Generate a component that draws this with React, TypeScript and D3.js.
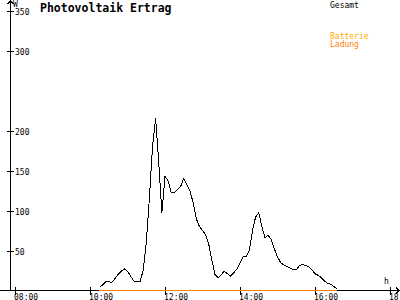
import React from "react";
import * as d3 from "d3";

const TITLE = "Photovoltaik Ertrag";
const Y_TICKS = [50, 100, 150, 200, 300, 350];
const X_TICKS = [8, 10, 12, 14, 16, 18];
const X_TICK_LABELS = ["08:00", "10:00", "12:00", "14:00", "16:00", "18:00"];
const START_HOUR = 10.25; // 10:15
const STEP_MIN = 5;
const GESAMT = [
  4, 7, 11, 11, 10, 15, 20, 24, 27, 24, 18, 12, 11, 11, 25, 60, 115, 180, 215, 160,
  97, 143, 137, 122, 122, 126, 130, 140, 132, 124, 110, 90, 80, 75, 70, 58, 38, 20, 16, 20,
  24, 21, 18, 22, 27, 34, 42, 42, 50, 75, 92, 97, 80, 66, 69, 64, 52, 42, 35, 32,
  30, 28, 26, 26, 31, 33, 31, 30, 26, 21, 19, 16, 12, 9, 8, 5, 2,
];
const LADUNG = GESAMT.map(() => 0);

const W = 400;
const H = 300;

export default function App() {
  const x = d3.scaleLinear().domain([8, 18]).range([15, 390]);
  const y = d3.scaleLinear().domain([0, 350]).range([290.5, 10.5]);
  const t = (i: number) => START_HOUR + (i * STEP_MIN) / 60;
  const line = d3
    .line<number>()
    .x((_, i) => x(t(i)))
    .y((d) => y(d));
  const mono = "'DejaVu Sans Mono', monospace";
  const axisY = 290.5;
  const axisX = 10.5;
  return (
    <svg
      width={W}
      height={H}
      style={{ position: "absolute", left: 0, top: 0, background: "#fff" }}
    >
      <rect x={0} y={0} width={W} height={H} fill="#fff" />
      {/* axes */}
      <line x1={0} x2={399} y1={axisY} y2={axisY} stroke="#000" shapeRendering="crispEdges" />
      <line x1={axisX} x2={axisX} y1={1} y2={291} stroke="#000" shapeRendering="crispEdges" />
      {/* arrows */}
      <path d={`M${axisX - 3},4 L${axisX},1 L${axisX + 3},4`} fill="none" stroke="#000" shapeRendering="crispEdges" />
      <path d={`M396,${axisY - 3} L399,${axisY} L396,${axisY + 3}`} fill="none" stroke="#000" shapeRendering="crispEdges" />
      <text x={13} y={7} fontFamily={mono} fontSize={8} fill="#000">W</text>
      <text x={384} y={284} fontFamily={mono} fontSize={8} fill="#000">h</text>
      {/* y ticks */}
      {Y_TICKS.map((v) => (
        <g key={v}>
          <line x1={7} x2={14} y1={Math.round(y(v)) + 0.5} y2={Math.round(y(v)) + 0.5} stroke="#000" shapeRendering="crispEdges" />
          <text x={15} y={Math.round(y(v)) + 3.5} fontFamily={mono} fontSize={8} fill="#000">{v}</text>
        </g>
      ))}
      {/* x ticks */}
      {X_TICKS.map((h, i) => (
        <g key={h}>
          <line x1={Math.round(x(h)) + 0.5} x2={Math.round(x(h)) + 0.5} y1={287} y2={295} stroke="#000" shapeRendering="crispEdges" />
          <text x={Math.round(x(h)) - 1} y={299.5} fontFamily={mono} fontSize={8} fill="#000">{X_TICK_LABELS[i]}</text>
        </g>
      ))}
      {/* series */}
      <path d={line(LADUNG) || ""} fill="none" stroke="#ff8000" strokeWidth={1} shapeRendering="crispEdges" />
      <path d={line(GESAMT) || ""} fill="none" stroke="#000" strokeWidth={1} shapeRendering="crispEdges" />
      {/* title */}
      <text x={40} y={12} fontFamily={mono} fontWeight="bold" fontSize={11.5} fill="#000">{TITLE}</text>
      {/* legend */}
      <text x={330} y={7.5} fontFamily={mono} fontSize={8} fill="#000">Gesamt</text>
      <text x={330} y={39} fontFamily={mono} fontSize={8} fill="#ffaa00">Batterie</text>
      <text x={330} y={47} fontFamily={mono} fontSize={8} fill="#ff8000">Ladung</text>
    </svg>
  );
}
